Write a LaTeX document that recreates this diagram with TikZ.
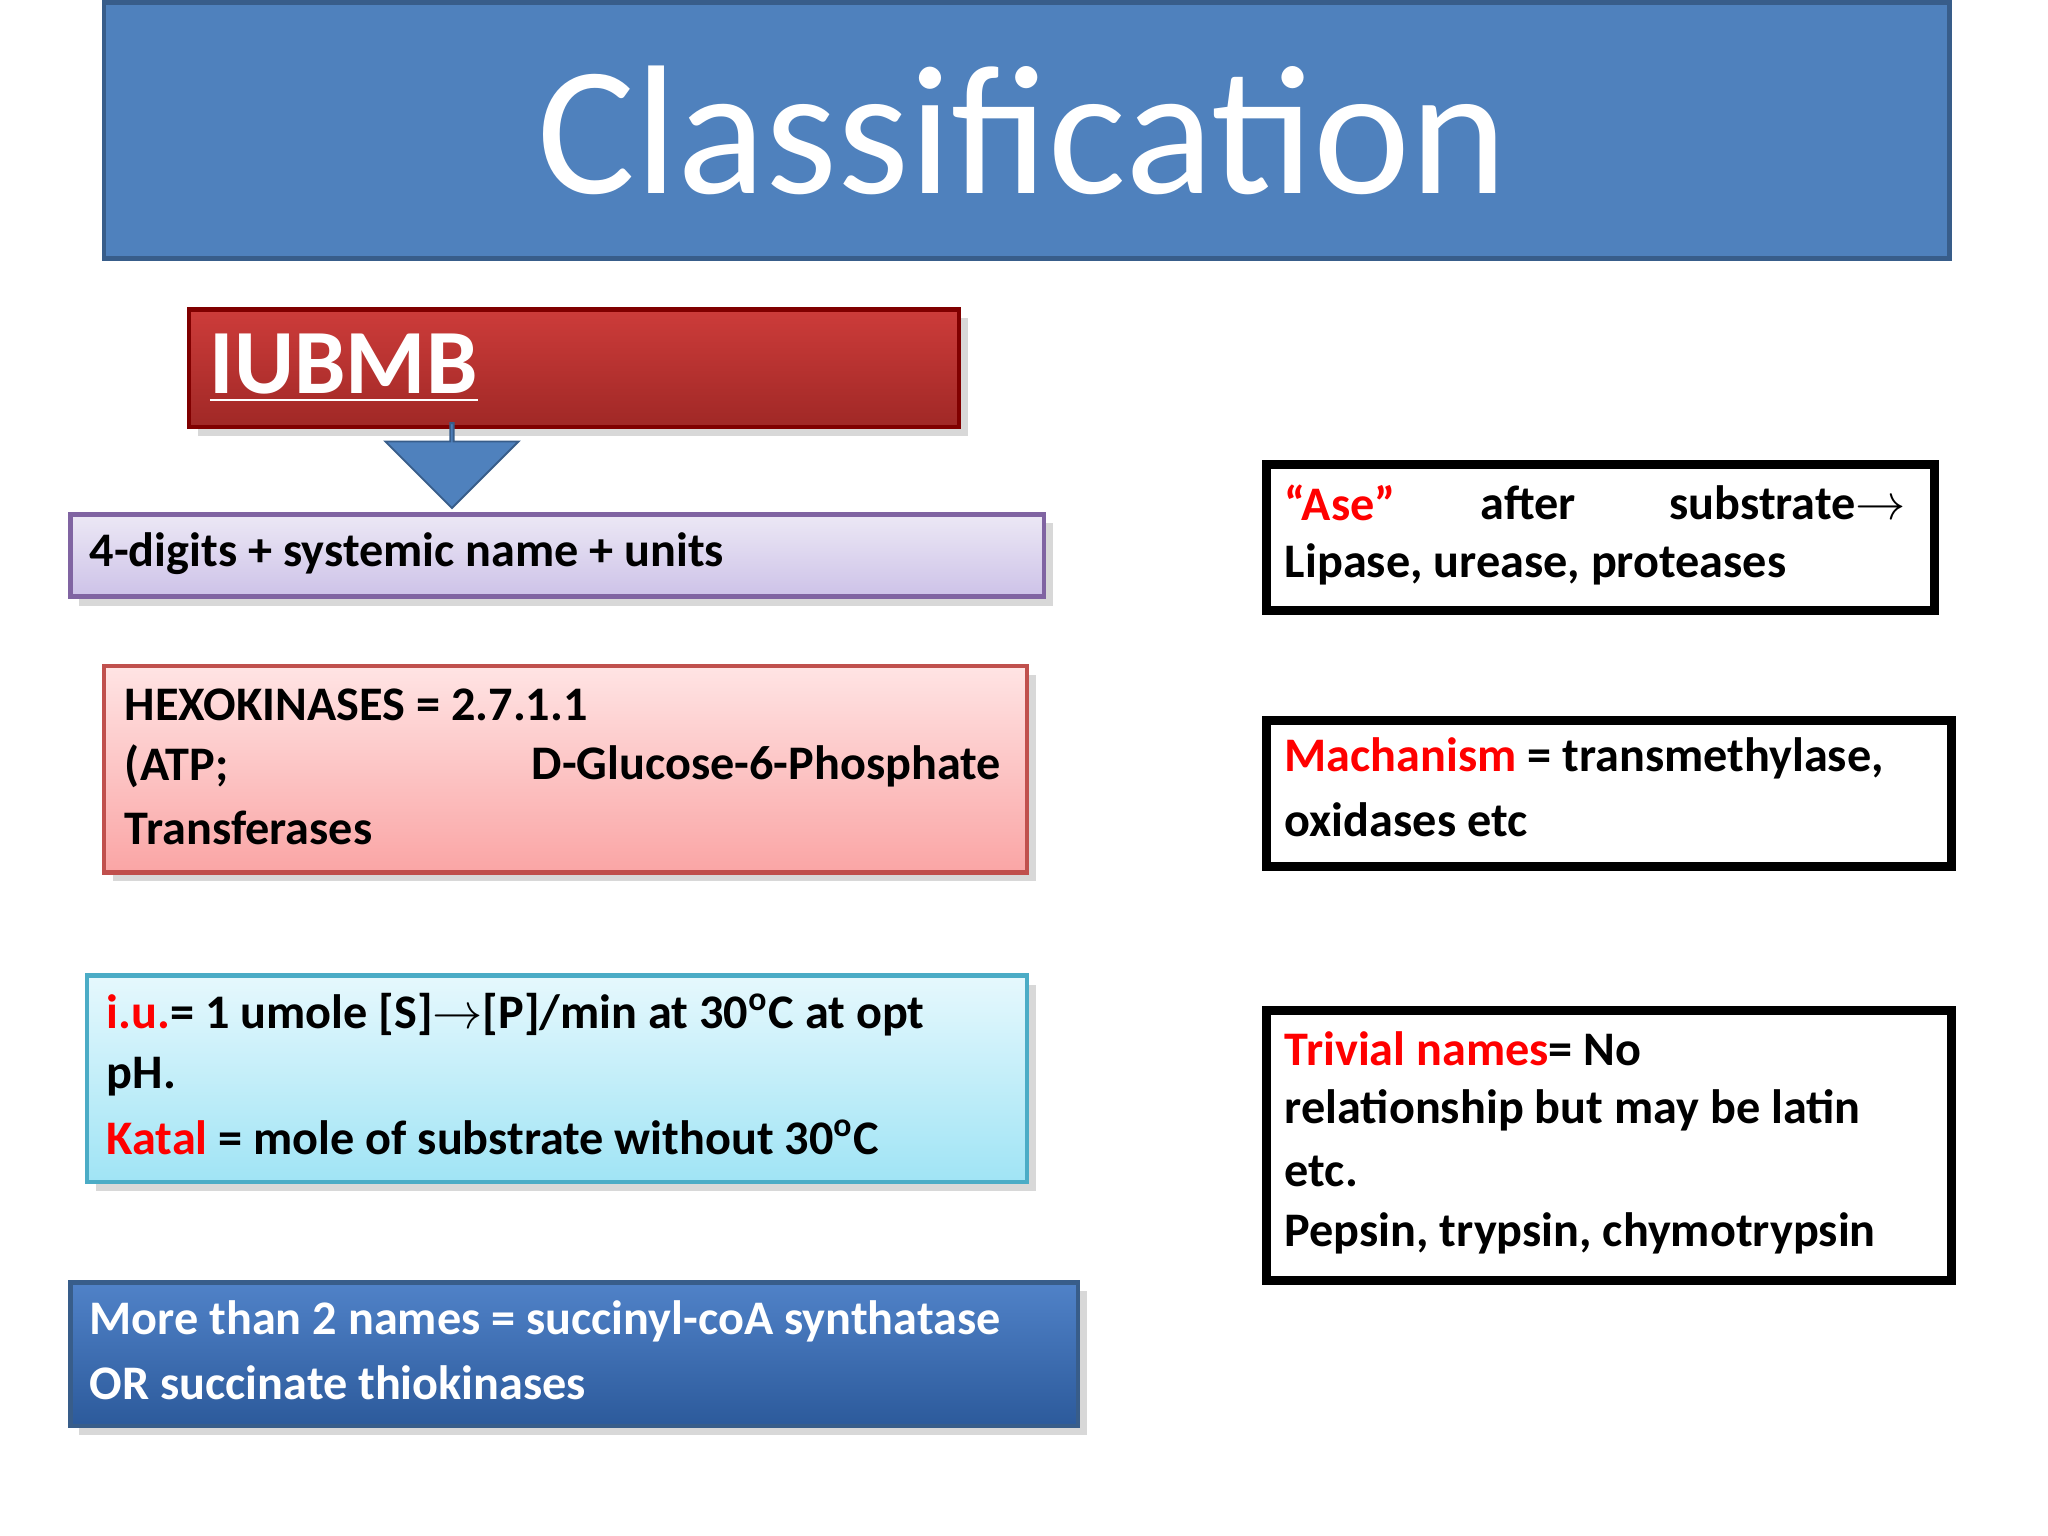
\documentclass[tikz,border=0pt]{standalone}
\usepackage{fontspec}
\setmainfont{Carlito}
\usetikzlibrary{shapes.arrows,shadows}
\definecolor{tblue}{HTML}{4F81BD}
\definecolor{tblueb}{HTML}{385D8A}
\newcommand{\rarr}{$\mathbf{\rightarrow}$}
\begin{document}
\begin{tikzpicture}[x=0.01cm,y=-0.01cm,
  box/.style={draw,anchor=north west,inner sep=0,line width=1pt},
  shad/.style={drop shadow={shadow xshift=2pt,shadow yshift=-2pt,opacity=0.3}},
  t/.style={anchor=west,inner sep=0,font=\fontsize{10.5}{13}\selectfont\bfseries},
  rb/.style={box,draw=black,line width=2pt,fill=white}]
\useasboundingbox[fill=white] (0,0) rectangle (1568,1176);
% title
\node[box,draw=tblueb,fill=tblue,minimum width=14.12cm,minimum height=1.96cm] (title) at (78,0) {};
\node[text=white,font=\fontsize{40}{44}\selectfont] (tt) at (783,100) {Classification};
% IUBMB
\node[box,draw=red!50!black,shad,
  minimum width=5.89cm,minimum height=0.9cm,top color={rgb,255:red,205;green,60;blue,58},bottom color={rgb,255:red,160;green,40;blue,38}] (iub) at (143,235) {};
\node[t,text=white,font=\fontsize{20}{24}\selectfont\bfseries] (iubt) at (160,282) {\underline{IUBMB}};
% arrow
\node[single arrow,draw=tblueb,fill=tblue,shape border rotate=270,minimum height=0.65cm,minimum width=1.02cm,
  single arrow head extend=0.27cm,inner sep=0,anchor=tip] (arr) at (346,390) {};
% purple
\node[box,draw={rgb,255:red,128;green,100;blue,162},top color={rgb,255:red,236;green,232;blue,245},bottom color={rgb,255:red,205;green,194;blue,232},shad,
  minimum width=7.45cm,minimum height=0.63cm] (pur) at (52,392) {};
\node[t] (purt) at (68,424) {4-digits + systemic name + units};
% pink
\node[box,draw={rgb,255:red,192;green,80;blue,77},top color={rgb,255:red,255;green,228;blue,228},bottom color={rgb,255:red,250;green,165;blue,165},shad,
  minimum width=7.06cm,minimum height=1.58cm] (pink) at (78,508) {};
\node[t] (p1) at (95,540) {HEXOKINASES = 2.7.1.1};
\node[t] (p2) at (95,587) {(ATP;};
\node[t,anchor=east] (p2b) at (767,587) {D-Glucose-6-Phosphate};
\node[t] (p3) at (95,634) {Transferases};
% cyan
\node[box,draw={rgb,255:red,75;green,172;blue,198},top color={rgb,255:red,230;green,248;blue,253},bottom color={rgb,255:red,160;green,228;blue,245},shad,
  minimum width=7.19cm,minimum height=1.58cm] (cy) at (65,745) {};
\node[t] (c1) at (81,777) {\textcolor{red}{i.u.}= 1 umole [S]\rarr[P]/min at 30\textsuperscript{o}C at opt};
\node[t] (c2) at (81,824) {pH.};
\node[t] (c3) at (81,871) {\textcolor{red}{Katal} = mole of substrate without 30\textsuperscript{o}C};
% blue
\node[box,draw=tblueb,top color={rgb,255:red,80;green,130;blue,200},bottom color={rgb,255:red,44;green,90;blue,155},shad,
  minimum width=7.71cm,minimum height=1.1cm] (bl) at (52,980) {};
\node[t,text=white] (b1) at (68,1012) {More than 2 names = succinyl-coA synthatase};
\node[t,text=white] (b2) at (68,1059) {OR succinate thiokinases};
% right boxes
\node[rb,minimum width=5.11cm,minimum height=1.12cm] (r1) at (966,352) {};
\node[t,text=red] (r1a) at (983,385) {“Ase”};
\node[t] (r1b) at (1133,385) {after};
\node[t,anchor=east] (r1c) at (1460,385) {substrate\rarr};
\node[t] (r1d) at (983,432) {Lipase, urease, proteases};
\node[rb,minimum width=5.24cm,minimum height=1.12cm] (r2) at (966,548) {};
\node[t] (r2a) at (983,581) {\textcolor{red}{Machanism} = transmethylase,};
\node[t] (r2b) at (983,628) {oxidases etc};
\node[rb,minimum width=5.24cm,minimum height=2.07cm] (r3) at (966,770) {};
\node[t] (r3a) at (983,803) {\textcolor{red}{Trivial names}= No};
\node[t] (r3b) at (983,850) {relationship but may be latin};
\node[t] (r3c) at (983,897) {etc.};
\node[t] (r3d) at (983,944) {Pepsin, trypsin, chymotrypsin};
\end{tikzpicture}
\end{document}
